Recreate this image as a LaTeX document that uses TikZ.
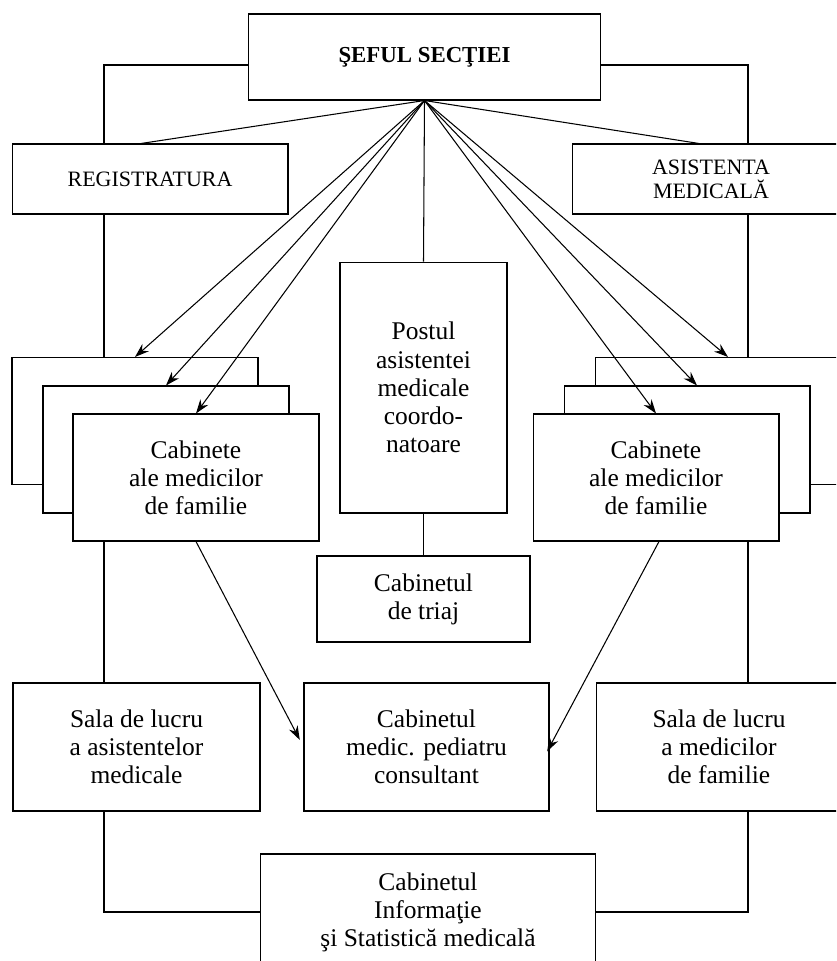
\documentclass[tikz,border=0pt]{standalone}
\usepackage{fontspec}
\setmainfont{Liberation Serif}
\usetikzlibrary{arrows.meta}
\tikzset{
 bx/.style={draw,fill=white,inner sep=0pt,align=center,line width=0.6pt,
  font=\fontsize{14.5}{16}\selectfont},
 capbx/.style={bx,font=\fontsize{12.5}{13.5}\selectfont},
 cabbx/.style={bx,minimum width=4.92cm,minimum height=2.54cm},
 ln/.style={line width=0.6pt},
 arr/.style={ln,-{Stealth[length=8pt,width=5.5pt]}}
}
\begin{document}
\begin{tikzpicture}[x=0.02cm,y=-0.02cm]
\useasboundingbox (0,0) rectangle (836,961);
\clip (0,0) rectangle (836,961);

\coordinate (lcol) at (104,0);
\coordinate (rcol) at (748,0);

\node[bx,minimum width=7.06cm,minimum height=1.72cm,font=\fontsize{13}{15}\selectfont\bfseries] (sef) at (424.5,57) {ŞEFUL SECŢIEI};
\node[capbx,minimum width=5.52cm,minimum height=1.4cm] (reg) at (150,179) {REGISTRATURA};
\node[capbx,minimum width=5.54cm,minimum height=1.4cm] (asis) at (711,179) {ASISTENTA\\MEDICALĂ};

\node[bx,minimum width=3.34cm,minimum height=5.02cm] (postul) at (423.5,387.5) {Postul\\asistentei\\medicale\\coordo-\\natoare};
\node[bx,minimum width=4.26cm,minimum height=1.72cm] (triaj) at (423.5,599) {Cabinetul\\de triaj};

\node[cabbx] (cabL1) at (135,421) {};
\node[cabbx] (cabL2) at (166,449.5) {};
\node[cabbx] (cabL3) at (196,477.5) {Cabinete\\ale medicilor\\de familie};
\node[cabbx] (cabR1) at (718,421) {};
\node[cabbx] (cabR2) at (687,449.5) {};
\node[cabbx] (cabR3) at (656,477.5) {Cabinete\\ale medicilor\\de familie};

\node[bx,minimum width=4.94cm,minimum height=2.56cm] (salaL) at (136.5,747) {Sala de lucru\\a asistentelor\\medicale};
\node[bx,minimum width=4.9cm,minimum height=2.56cm] (ped) at (426.5,747) {Cabinetul\\medic. pediatru\\consultant};
\node[bx,minimum width=4.92cm,minimum height=2.56cm] (salaR) at (719,747) {Sala de lucru\\a medicilor\\de familie};
\node[bx,minimum width=6.72cm,minimum height=2.32cm] (info) at (428,912) {Cabinetul\\Informaţie\\şi Statistică medicală};

\draw[ln] ([yshift=-0.16cm]sef.west) -| (lcol |- reg.north);
\draw[ln] ([yshift=-0.16cm]sef.east) -| (rcol |- asis.north);
\draw[ln] (sef.south) -- ([xshift=-0.18cm]reg.north);
\draw[ln] (sef.south) -- ([xshift=-0.24cm]asis.north);
\draw[ln] (sef.south) -- (postul.north);
\draw[ln] (postul.south) -- (triaj.north);
\draw[ln] (lcol |- reg.south) -- (lcol |- cabL1.north);
\draw[ln] (rcol |- asis.south) -- (rcol |- cabR1.north);
\draw[ln] (lcol |- cabL3.south) -- (lcol |- salaL.north);
\draw[ln] (rcol |- cabR3.south) -- (rcol |- salaR.north);
\draw[ln] (lcol |- salaL.south) |- (info.west);
\draw[ln] (rcol |- salaR.south) |- (info.east);

\draw[arr] (sef.south) -- (cabL1.north);
\draw[arr] (sef.south) -- (cabL2.north);
\draw[arr] (sef.south) -- (cabL3.north);
\draw[arr] (sef.south) -- ([xshift=0.2cm]cabR1.north);
\draw[arr] (sef.south) -- ([xshift=0.2cm]cabR2.north);
\draw[arr] (sef.south) -- (cabR3.north);
\draw[arr,shorten >=0.16cm] (cabL3.south) -- (ped.west);
\draw[arr,shorten >=-0.1cm] ([xshift=0.06cm]cabR3.south) -- (ped.east);

\end{tikzpicture}
\end{document}
